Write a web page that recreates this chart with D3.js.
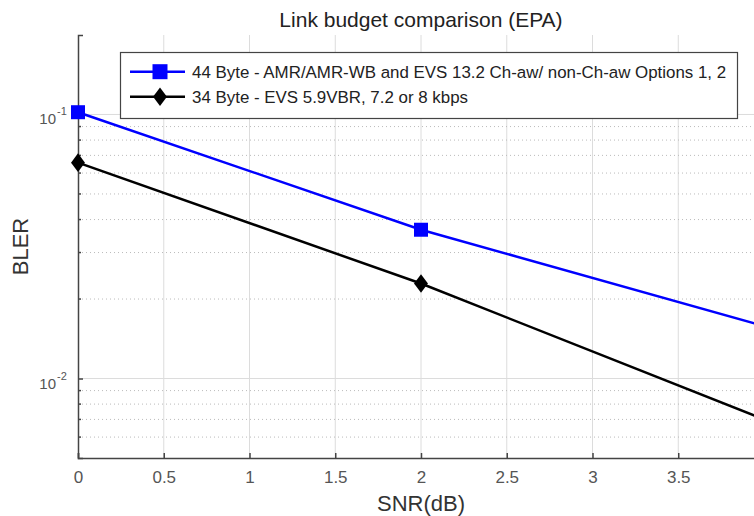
<!DOCTYPE html>
<html>
<head>
<meta charset="utf-8">
<title>Link budget comparison</title>
<script src="https://d3js.org/d3.v7.min.js"></script>
<style>
  body { margin: 0; background: #fff; overflow: hidden; }
  svg { font-family: "Liberation Sans", Arial, sans-serif; display: block; }
</style>
</head>
<body>
<script>
// values
var snr = [0, 2, 4];
var bler44 = [0.102, 0.0366, 0.0158];
var bler34 = [0.0657, 0.0229, 0.0070];
var xTicks = [0, 0.5, 1, 1.5, 2, 2.5, 3, 3.5];
var yMajor = [0.01, 0.1];
var yMinor = [0.006, 0.007, 0.008, 0.009, 0.02, 0.03, 0.04, 0.05, 0.06, 0.07, 0.08, 0.09];
var legendLabels = [
  "44 Byte - AMR/AMR-WB and EVS 13.2 Ch-aw/ non-Ch-aw Options 1, 2",
  "34 Byte - EVS 5.9VBR, 7.2 or 8 kbps"
];

var width = 754, height = 516;
var margin = {top: 35, left: 78, bottom: 58};
var plotW = 686, plotH = height - margin.top - margin.bottom;

var svg = d3.select("body").append("svg")
    .attr("width", width)
    .attr("height", height);

var x = d3.scaleLinear().domain([0, 4]).range([margin.left, margin.left + plotW]);
var y = d3.scaleLog().domain([0.005, 0.2]).range([margin.top + plotH, margin.top]);

var grid = svg.append("g");
// vertical grid
grid.selectAll(".vg")
    .data(xTicks.slice(1))
    .join("line")
    .attr("x1", d => x(d)).attr("x2", d => x(d))
    .attr("y1", y(0.2)).attr("y2", y(0.005))
    .attr("stroke", "#dcdcdc").attr("stroke-width", 1);
// minor horizontal grid (dotted)
grid.selectAll(".hm")
    .data(yMinor)
    .join("line")
    .attr("x1", x(0)).attr("x2", x(4))
    .attr("y1", d => y(d)).attr("y2", d => y(d))
    .attr("stroke", "#bbb").attr("stroke-width", 1)
    .attr("stroke-dasharray", "1,3");
// major horizontal grid
grid.selectAll(".hM")
    .data(yMajor)
    .join("line")
    .attr("x1", x(0)).attr("x2", x(4))
    .attr("y1", d => y(d)).attr("y2", d => y(d))
    .attr("stroke", "#dcdcdc").attr("stroke-width", 1);

// x axis
var xAxis = svg.append("g")
    .attr("transform", `translate(0,${y(0.005)})`)
    .call(d3.axisBottom(x).tickValues(xTicks).tickSize(-5).tickPadding(13)
      .tickFormat(d3.format("")));
xAxis.select(".domain").attr("stroke", "#444").attr("stroke-width", 1.5);
xAxis.selectAll(".tick line").attr("stroke", "#444").attr("stroke-width", 1.5);
xAxis.selectAll(".tick text").attr("fill", "#555").attr("font-size", 17)
    .attr("font-family", "Liberation Sans, Arial, sans-serif");

// y axis
var yAxis = svg.append("g")
    .attr("transform", `translate(${x(0)},0)`)
    .call(d3.axisLeft(y).tickValues(yMajor).tickSize(-5).tickFormat(""));
yAxis.select(".domain").attr("stroke", "#444").attr("stroke-width", 1.5);
yAxis.selectAll(".tick line").attr("stroke", "#444").attr("stroke-width", 1.5);
// minor ticks
yAxis.selectAll(".mt")
    .data(yMinor)
    .join("line")
    .attr("x1", 0).attr("x2", 3)
    .attr("y1", d => y(d)).attr("y2", d => y(d))
    .attr("stroke", "#444").attr("stroke-width", 1.5);
// 10^-n labels
svg.append("g").selectAll("text")
    .data(yMajor)
    .join("text")
    .attr("x", 56)
    .attr("y", d => y(d) + 10)
    .attr("text-anchor", "end")
    .attr("fill", "#555")
    .attr("font-size", 15)
    .text("10");
svg.append("g").selectAll("text")
    .data(yMajor)
    .join("text")
    .attr("x", 57)
    .attr("y", d => y(d) + 1)
    .attr("fill", "#555")
    .attr("font-size", 11)
    .text(d => "-" + Math.round(-Math.log10(d)));

// titles
svg.append("text")
    .attr("x", x(2)).attr("y", 26.5)
    .attr("text-anchor", "middle")
    .attr("font-size", 21)
    .attr("fill", "#222")
    .text("Link budget comparison (EPA)");
svg.append("text")
    .attr("x", x(2)).attr("y", 511)
    .attr("text-anchor", "middle")
    .attr("font-size", 22)
    .attr("fill", "#333")
    .text("SNR(dB)");
svg.append("text")
    .attr("transform", `translate(28,${(y(0.2) + y(0.005)) / 2}) rotate(-90)`)
    .attr("text-anchor", "middle")
    .attr("font-size", 22)
    .attr("fill", "#333")
    .text("BLER");

// lines
var line = d3.line().x(d => x(d[0])).y(d => y(d[1]));
var s44 = snr.map((v, i) => [v, bler44[i]]);
var s34 = snr.map((v, i) => [v, bler34[i]]);

svg.append("path").datum(s44).attr("d", line)
    .attr("fill", "none").attr("stroke", "#0000ff").attr("stroke-width", 2.5);
svg.append("path").datum(s34).attr("d", line)
    .attr("fill", "none").attr("stroke", "#000").attr("stroke-width", 2.5);

// MATLAB-style diamond: narrower than tall
var tallDiamond = {
  draw: function(ctx, size) {
    var w = Math.sqrt(size) * 0.45, h = Math.sqrt(size) * 0.6;
    ctx.moveTo(0, -h); ctx.lineTo(w, 0); ctx.lineTo(0, h); ctx.lineTo(-w, 0); ctx.closePath();
  }
};
var sq = d3.symbol().type(d3.symbolSquare).size(196);
var dia = d3.symbol().type(tallDiamond).size(240);

svg.append("g").selectAll("path")
    .data(s44).join("path")
    .attr("transform", d => `translate(${x(d[0])},${y(d[1])})`)
    .attr("d", sq).attr("fill", "#0000ff");
svg.append("g").selectAll("path")
    .data(s34).join("path")
    .attr("transform", d => `translate(${x(d[0])},${y(d[1])})`)
    .attr("d", dia).attr("fill", "#000");

// legend
var lg = svg.append("g");
lg.append("rect")
    .attr("x", 120.5).attr("y", 52.5).attr("width", 617).attr("height", 66)
    .attr("fill", "#fff").attr("stroke", "#444").attr("stroke-width", 1.2);
var colors = ["#0000ff", "#000"];
var syms = [d3.symbol().type(d3.symbolSquare).size(225), dia];
legendLabels.forEach(function(t, i) {
  var yy = 71.7 + i * 25;
  lg.append("line").attr("x1", 130).attr("x2", 185).attr("y1", yy).attr("y2", yy)
    .attr("stroke", colors[i]).attr("stroke-width", 2.5);
  lg.append("path").attr("transform", `translate(160,${yy})`).attr("d", syms[i]).attr("fill", colors[i]);
  lg.append("text").attr("x", 192).attr("y", yy + 6)
    .attr("font-size", 16.9).attr("fill", "#222").text(t);
});
</script>
</body>
</html>
